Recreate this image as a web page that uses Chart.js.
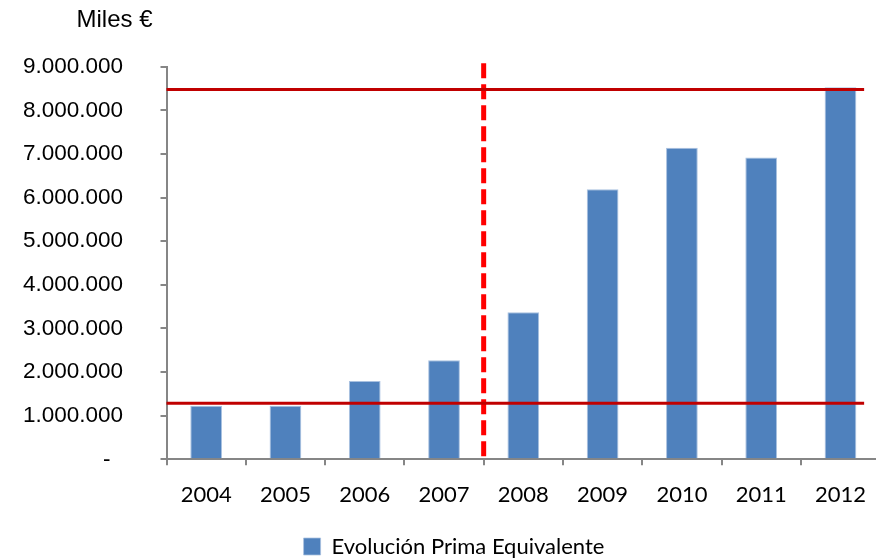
<!DOCTYPE html>
<html>
<head>
<meta charset="utf-8">
<script src="https://cdn.jsdelivr.net/npm/chart.js@4/dist/chart.umd.min.js"></script>
<style>
html,body{margin:0;padding:0;overflow:hidden;background:#fff;width:876px;height:559px}
#wrap{position:absolute;left:0;top:0;width:882px;height:559px}
</style>
</head>
<body>
<div id="wrap"><canvas id="c" width="882" height="559"></canvas></div>
<script>
const categories = ['2004','2005','2006','2007','2008','2009','2010','2011','2012'];
const seriesName = 'Evolución Prima Equivalente';
const primaValues = [1229000, 1225000, 1795000, 2270000, 3370000, 6190000, 7140000, 6920000, 8530000];
const yTickLabels = ['-  ','1.000.000','2.000.000','3.000.000','4.000.000','5.000.000','6.000.000','7.000.000','8.000.000','9.000.000'];
const refLineValues = [8480000, 1285000];
const dividerAfter = '2007';
const unitLabel = 'Miles €';

const overlay = {
  id: 'overlay',
  afterLayout(chart) {
    if (chart.legend) { chart.legend.left = 26; }
  },
  afterDatasetsDraw(chart) {
    const {ctx, chartArea: a, scales: {x, y}} = chart;
    ctx.save();
    const i = categories.indexOf(dividerAfter);
    const px = (x.getPixelForValue(i) + x.getPixelForValue(i + 1)) / 2;
    ctx.strokeStyle = '#FF0000';
    ctx.lineWidth = 5;
    ctx.setLineDash([15, 6]);
    ctx.beginPath();
    ctx.moveTo(px, a.bottom - 3);
    ctx.lineTo(px, a.top - 4);
    ctx.stroke();
    ctx.setLineDash([]);
    ctx.strokeStyle = '#C00000';
    ctx.lineWidth = 3;
    refLineValues.forEach(v => {
      const py = y.getPixelForValue(v);
      ctx.beginPath();
      ctx.moveTo(a.left, py);
      ctx.lineTo(a.right - 16, py);
      ctx.stroke();
    });
    ctx.restore();
  },
  afterDraw(chart) {
    const {ctx, scales: {y}} = chart;
    ctx.save();
    ctx.font = '24px "Liberation Sans", Arial, sans-serif';
    ctx.fillStyle = '#000';
    ctx.textAlign = 'right';
    ctx.textBaseline = 'middle';
    ctx.fillText(unitLabel, y.right - 14, 20);
    ctx.restore();
  }
};

new Chart(document.getElementById('c'), {
  type: 'bar',
  data: {
    labels: categories,
    datasets: [{
      label: seriesName,
      data: primaValues,
      backgroundColor: '#4F81BD',
      borderColor: '#A9C1E0',
      borderWidth: {top: 1, left: 1, right: 1, bottom: 0},
      barPercentage: 0.4,
      categoryPercentage: 1.0
    }]
  },
  options: {
    responsive: false,
    animation: false,
    events: [],
    layout: {padding: {left: 0, right: 0, top: 66.7, bottom: 0}},
    plugins: {
      tooltip: {enabled: false},
      legend: {
        position: 'bottom',
        maxHeight: 23.5,
        labels: {
          boxWidth: 17,
          boxHeight: 17,
          padding: 0,
          color: '#000',
          font: {family: 'Lato, "Open Sans", sans-serif', size: 22}
        }
      }
    },
    scales: {
      x: {
        afterFit(s) { s.height = 76.2; },
        border: {display: true, color: '#868686', width: 2},
        grid: {display: true, drawOnChartArea: false, drawTicks: true, tickLength: 6, color: '#868686', lineWidth: 2, offset: true},
        ticks: {color: '#000', padding: 16, font: {family: 'Lato, "Open Sans", sans-serif', size: 22}}
      },
      y: {
        min: 0,
        max: 9000000,
        afterFit(s) { s.width = 166.5; },
        border: {display: true, color: '#868686', width: 2},
        grid: {display: true, drawOnChartArea: false, drawTicks: true, tickLength: 6, color: '#868686', lineWidth: 2},
        ticks: {
          stepSize: 1000000,
          color: '#000',
          padding: 37.5,
          font: {family: '"Liberation Sans", Arial, sans-serif', size: 22.5},
          callback: (v, idx) => yTickLabels[idx]
        }
      }
    }
  },
  plugins: [overlay]
});
</script>
</body>
</html>
